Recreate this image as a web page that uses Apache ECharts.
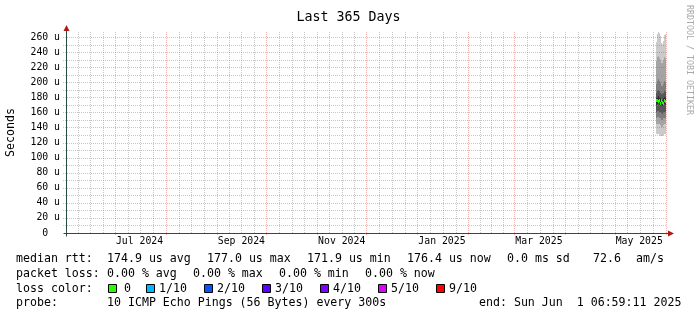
<!DOCTYPE html>
<html><head><meta charset="utf-8">
<script src="https://cdn.jsdelivr.net/npm/echarts@6/dist/echarts.min.js"></script>
<style>html,body{margin:0;padding:0;background:#fff}#c{width:697px;height:315px}</style>
</head><body><div id="c"></div>
<script>
// ---------------- data ----------------
const titleText = 'Last 365 Days';
const yAxisName = 'Seconds';
const watermark = 'RRDTOOL / TOBI OETIKER';
const endTime = Date.UTC(2025, 5, 1, 6, 59, 11);
const startTime = endTime - 365 * 86400000;
const stepHours = 12;
const yMax = 266.6;
const yTicks = [0, 20, 40, 60, 80, 100, 120, 140, 160, 180, 200, 220, 240, 260];
const yMinorTicks = [10, 30, 50, 70, 90, 110, 130, 150, 170, 190, 210, 230, 250];
const xLabelMonths = ['2024-07', '2024-09', '2024-11', '2025-01', '2025-03', '2025-05'];
const xLabelTexts = ['Jul 2024', 'Sep 2024', 'Nov 2024', 'Jan 2025', 'Mar 2025', 'May 2025'];

const sampleTimes = ['2025-05-26T00:00:00Z','2025-05-26T12:00:00Z','2025-05-27T00:00:00Z','2025-05-27T12:00:00Z',
  '2025-05-28T00:00:00Z','2025-05-28T12:00:00Z','2025-05-29T00:00:00Z','2025-05-29T12:00:00Z',
  '2025-05-30T00:00:00Z','2025-05-30T12:00:00Z','2025-05-31T00:00:00Z','2025-05-31T12:00:00Z',
  '2025-06-01T00:00:00Z'];
// sorted pings (microseconds), ping1 = fastest ... ping10 = slowest
const ping1  = [129, 131, 131, 131, 130, 129, 129, 128, 128, 130, 131, 131, 130];
const ping2  = [143, 144, 145, 145, 144, 143, 142, 141, 141, 143, 144, 144, 143];
const ping3  = [152, 153, 154, 154, 153, 152, 151, 150, 150, 152, 153, 153, 152];
const ping4  = [160, 161, 162, 162, 161, 160, 159, 159, 158, 160, 161, 161, 160];
const ping5  = [169, 170, 171, 172, 170, 169, 169, 168, 168, 169, 171, 170, 169];
const ping6  = [178, 179, 181, 182, 180, 179, 178, 177, 177, 179, 181, 180, 179];
const ping7  = [185, 186, 189, 190, 188, 186, 185, 184, 184, 186, 188, 187, 186];
const ping8  = [196, 198, 202, 204, 201, 199, 197, 195, 195, 198, 201, 200, 199];
const ping9  = [226, 228, 233, 235, 232, 230, 228, 226, 225, 229, 233, 232, 230];
const ping10 = [250, 253, 264, 266, 265, 261, 257, 252, 251, 255, 262, 264, 263];
const medianRtt = [174, 176, 177, 175, 177, 173, 176, 177, 174, 172, 177, 175, 176.4];

const rttStats = [174.9, 177.0, 171.9, 176.4];   // avg max min now (us)
const rttSd = 0.0;                                // ms
const rttAmS = 72.6;
const lossStats = [0.00, 0.00, 0.00, 0.00];       // avg max min now (%)
const lossLabels = ['0', '1/10', '2/10', '3/10', '4/10', '5/10', '9/10'];
const lossColors = ['#26ff00', '#00b8ff', '#0059ff', '#5e00ff', '#7e00ff', '#dd00ff', '#ff0000'];
const probeText = '10 ICMP Echo Pings (56 Bytes) every 300s';
const endText = 'end: Sun Jun  1 06:59:11 2025';

// ---------------- styles ----------------
const MONO = '"DejaVu Sans Mono", monospace';
const MGRID = 'rgba(222,48,47,0.36)';
const GRID = 'rgba(143,143,143,0.5)';
const AXIS = '#2C4D43';
const ARROW = '#b01818';
// band between ping k and ping k+1
const bandShades = ['#cacaca', '#a4a4a4', '#7e7e7e', '#585858', '#323232', '#585858', '#7e7e7e', '#a4a4a4', '#cacaca'];

// ---------------- build ----------------
const times = sampleTimes.map(s => Date.parse(s));
const pings = [ping1, ping2, ping3, ping4, ping5, ping6, ping7, ping8, ping9, ping10];
const STEP = stepHours * 3600000;
const smokeData = times.map((t, i) => [t, pings[0][i], ...pings.slice(1).map(p => p[i]), medianRtt[i]]);

// grid lines: month starts (major) and quarter-months (minor)
const gridData = [];
for (let y = 2024, m = 5; y < 2025 || (y === 2025 && m <= 5); ) {
  const s = Date.UTC(y, m, 1);
  const ny = m === 11 ? y + 1 : y, nm = (m + 1) % 12;
  const e = Date.UTC(ny, nm, 1);
  if (s > startTime && s <= endTime) gridData.push([s, 0, 0, 1]);
  for (let k = 1; k <= 3; k++) {
    const t = s + k * (e - s) / 4;
    if (t > startTime && t < endTime) gridData.push([t, 0, 0, 0]);
  }
  y = ny; m = nm;
}
yTicks.forEach(v => { if (v > 0) gridData.push([startTime, v, 1, 1]); });
yMinorTicks.forEach(v => gridData.push([startTime, v, 1, 0]));

const xLabelPos = xLabelMonths.map(s => { const [yy, mm] = s.split('-').map(Number); return Date.UTC(yy, mm - 1, 1) + 15 * 86400000; });
const xLabelMap = {};
xLabelPos.forEach((v, i) => xLabelMap[v] = xLabelTexts[i]);

const chart = echarts.init(document.getElementById('c'), null, { renderer: 'canvas', width: 697, height: 315 });
chart.setOption({
  backgroundColor: '#fff',
  animation: false,
  title: { text: titleText, left: 'center', top: 6,
    textStyle: { fontFamily: MONO, fontSize: 13.3, fontWeight: 'normal', color: '#000' } },
  grid: { left: 66, top: 32, width: 600, height: 201, containLabel: false, outerBoundsMode: 'none' },
  xAxis: { type: 'value', min: startTime, max: endTime, scale: true,
    axisLine: { show: false }, axisTick: { show: false }, splitLine: { show: false },
    axisLabel: { customValues: xLabelPos, formatter: v => xLabelMap[v] || '', hideOverlap: false,
      fontFamily: MONO, fontSize: 9.8, color: '#000', margin: 3 } },
  yAxis: { type: 'value', min: 0, max: yMax, interval: 20,
    name: yAxisName, nameLocation: 'middle', nameGap: 49, nameRotate: 90,
    nameTextStyle: { fontFamily: MONO, fontSize: 11.6, color: '#000' },
    axisLine: { show: false }, axisTick: { show: false }, splitLine: { show: false },
    axisLabel: { customValues: yTicks, formatter: v => v === 0 ? '0  ' : v + ' u',
      fontFamily: MONO, fontSize: 9.8, color: '#000', margin: 6 } },
  series: [
    { type: 'custom', z: 3, silent: true, clip: false, encode: { x: 0, y: 1 }, data: smokeData,
      renderItem: function (params, api) {
        const cs = params.coordSys;
        const t = api.value(0);
        const x1 = Math.round(api.coord([t, 0])[0]);
        let x2 = Math.min(Math.round(api.coord([t + STEP, 0])[0]), cs.x + cs.width);
        if (x2 <= x1) return null;
        const children = [];
        for (let k = 0; k < 9; k++) {
          const ya = Math.round(api.coord([t, api.value(1 + k)])[1]);
          const yb = Math.round(api.coord([t, api.value(2 + k)])[1]);
          children.push({ type: 'rect', shape: { x: x1, y: yb, width: x2 - x1, height: ya - yb },
            style: { fill: bandShades[k] } });
        }
        const ym = Math.round(api.coord([t, api.value(11)])[1]);
        children.push({ type: 'rect', shape: { x: x1, y: ym - 1, width: x2 - x1, height: 3 },
          style: { fill: lossColors[0] } });
        return { type: 'group', children: children, silent: true };
      } },
    { type: 'custom', z: 10, silent: true, clip: false, encode: { x: 0, y: 1 }, data: gridData,
      renderItem: function (params, api) {
        const cs = params.coordSys;
        const orient = api.value(2), major = api.value(3);
        const p = api.coord([api.value(0), api.value(1)]);
        let shape;
        if (orient === 0) {
          const x = Math.round(p[0]) + 0.5;
          shape = { x1: x, y1: cs.y, x2: x, y2: cs.y + cs.height + (major ? 3 : 0) };
        } else {
          const y = Math.round(p[1]) + 0.5;
          shape = { x1: cs.x - 3, y1: y, x2: cs.x + cs.width, y2: y };
        }
        return { type: 'line', shape: shape, silent: true,
          style: { stroke: major ? MGRID : GRID, lineWidth: 1, lineDash: [1, 1] } };
      } }
  ]
});

// ---------------- axes, arrows, legend text ----------------
const o = chart.convertToPixel({ gridIndex: 0 }, [startTime, 0]);
const tr = chart.convertToPixel({ gridIndex: 0 }, [endTime, yMax]);
const ox = Math.round(o[0]) + 0.5, oy = Math.round(o[1]) + 0.5;
const rx = Math.round(tr[0]), ty = Math.round(tr[1]);

const LF = '11.6px ' + MONO;
function txt(x, y, s) { return { type: 'text', x: x, y: y, silent: true, style: { text: s, font: LF, fill: '#000', verticalAlign: 'middle' } }; }
const f1 = v => v.toFixed(1), f2 = v => v.toFixed(2);
const rows = [259, 274, 288.5, 303];
const g = [
  { type: 'line', silent: true, shape: { x1: ox - 3, y1: oy, x2: rx + 2, y2: oy }, style: { stroke: AXIS, lineWidth: 1 } },
  { type: 'line', silent: true, shape: { x1: ox, y1: oy + 3, x2: ox, y2: ty - 1 }, style: { stroke: AXIS, lineWidth: 1 } },
  { type: 'polygon', silent: true, shape: { points: [[rx + 2, oy - 3], [rx + 8, oy], [rx + 2, oy + 3]] }, style: { fill: ARROW } },
  { type: 'polygon', silent: true, shape: { points: [[ox - 3, ty - 1], [ox, ty - 7], [ox + 3, ty - 1]] }, style: { fill: ARROW } },
  { type: 'text', x: 689, y: 5, rotation: -Math.PI / 2, silent: true,
    style: { text: watermark, font: '8.3px ' + MONO, fill: '#a8a8a8', verticalAlign: 'middle', align: 'left' } },
  txt(16, rows[0], 'median rtt:'),
  txt(107, rows[0], f1(rttStats[0]) + ' us avg'),
  txt(207, rows[0], f1(rttStats[1]) + ' us max'),
  txt(307, rows[0], f1(rttStats[2]) + ' us min'),
  txt(407, rows[0], f1(rttStats[3]) + ' us now'),
  txt(507, rows[0], f1(rttSd) + ' ms sd'),
  txt(593, rows[0], f1(rttAmS)),
  txt(636, rows[0], 'am/s'),
  txt(16, rows[1], 'packet loss:'),
  txt(107, rows[1], f2(lossStats[0]) + ' % avg'),
  txt(193, rows[1], f2(lossStats[1]) + ' % max'),
  txt(279, rows[1], f2(lossStats[2]) + ' % min'),
  txt(365, rows[1], f2(lossStats[3]) + ' % now'),
  txt(16, rows[2], 'loss color:'),
  txt(16, rows[3], 'probe:'),
  txt(107, rows[3], probeText),
  txt(479, rows[3], endText)
];
const boxX = [108, 146, 204, 262, 320, 378, 436];
lossLabels.forEach((l, i) => {
  g.push({ type: 'rect', silent: true, shape: { x: boxX[i] + 0.5, y: Math.round(rows[2]) - 4.5, width: 8, height: 8 },
    style: { fill: lossColors[i], stroke: '#000', lineWidth: 1 } });
  g.push(txt(boxX[i] + (i === 0 ? 16 : 13), rows[2], l));
});
chart.setOption({ graphic: g });
</script>
</body></html>
